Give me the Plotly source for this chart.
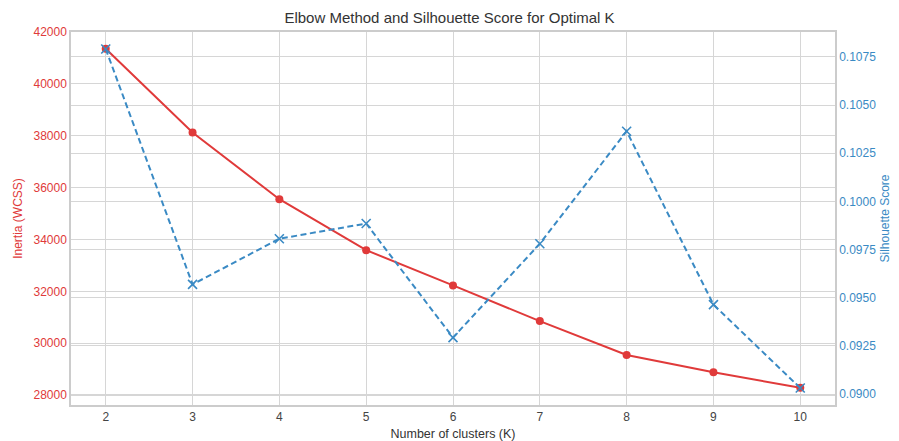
import plotly.graph_objects as go

k_values = [2, 3, 4, 5, 6, 7, 8, 9, 10]
inertia = [41360, 38124, 35554, 33589, 32229, 30853, 29543, 28877, 28283]
silhouette = [0.10791, 0.09569, 0.09806, 0.09885, 0.09293, 0.0978, 0.10364, 0.09464, 0.09031]

left_ticks = [28000, 30000, 32000, 34000, 36000, 38000, 40000, 42000]
right_ticks = [0.0900, 0.0925, 0.0950, 0.0975, 0.1000, 0.1025, 0.1050, 0.1075]

red = "#e03a3a"
blue = "#3a8ac4"
grid = "#d6d6d6"
font = "Liberation Sans, Arial, sans-serif"

fig = go.Figure()
fig.add_trace(go.Scatter(
    x=k_values, y=inertia, mode="lines+markers", name="Inertia",
    line=dict(color=red, width=2),
    marker=dict(symbol="circle", size=8, color=red),
    yaxis="y", showlegend=False,
))
fig.add_trace(go.Scatter(
    x=k_values, y=silhouette, mode="lines+markers", name="Silhouette",
    line=dict(color=blue, width=2, dash="6px,3.5px"),
    marker=dict(symbol="x-thin", size=9, line=dict(color=blue, width=1.6)),
    yaxis="y2", showlegend=False,
))

fig.update_layout(
    width=899, height=441,
    margin=dict(l=71, r=64, t=32, b=36, autoexpand=False),
    paper_bgcolor="white", plot_bgcolor="white",
    font=dict(family=font, size=12, color="#333333"),
    title=dict(text="Elbow Method and Silhouette Score for Optimal K",
               x=0.5, xanchor="center", y=0.959, yanchor="middle",
               font=dict(size=15, color="#333333", family=font)),
    xaxis=dict(
        range=[1.6, 10.4], tickmode="array", tickvals=k_values,
        ticktext=[str(k) for k in k_values], automargin=False,
        showgrid=True, gridcolor=grid, gridwidth=1,
        showline=True, linecolor="#cccccc", linewidth=1.5, mirror=True,
        zeroline=False, ticks="", ticklen=0,
        title=dict(text="Number of clusters (K)", font=dict(size=12.5, color="#333333"), standoff=6),
        tickfont=dict(size=12, color="#444444"),
    ),
    yaxis=dict(
        range=[27616, 42004], tickmode="array", tickvals=left_ticks,
        ticktext=[str(t) for t in left_ticks], automargin=False,
        showgrid=True, gridcolor=grid, gridwidth=1,
        showline=True, linecolor="#cccccc", linewidth=1.5,
        zeroline=False, ticks="",
        title=dict(text="Inertia (WCSS)", font=dict(size=12, color=red), standoff=8),
        tickfont=dict(size=12, color=red),
    ),
    yaxis2=dict(
        range=[0.08943, 0.10879], overlaying="y", side="right",
        tickmode="array", tickvals=right_ticks, automargin=False,
        ticktext=["%.4f" % t for t in right_ticks],
        showgrid=True, gridcolor=grid, gridwidth=1,
        showline=True, linecolor="#cccccc", linewidth=1.5,
        zeroline=False, ticks="",
        title=dict(text="Silhouette Score", font=dict(size=12, color=blue), standoff=5),
        tickfont=dict(size=12, color=blue),
    ),
)

fig.write_html(
    "out.html",
    config={"displayModeBar": False},
    post_script="document.body.style.margin='0';document.body.style.padding='0';",
)
